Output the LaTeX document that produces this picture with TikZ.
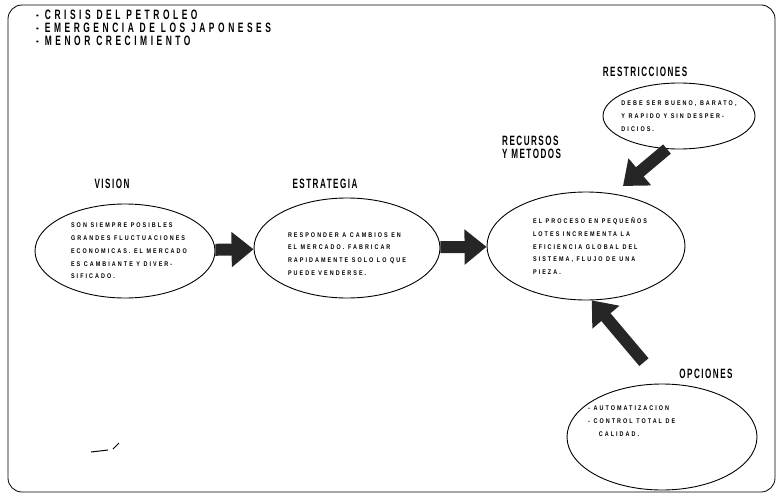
\documentclass[tikz,border=0pt]{standalone}
\usepackage{fontspec}
\setmainfont{Liberation Sans}
\newfontfamily\headfont{Liberation Sans}[FakeStretch=0.6,LetterSpace=11]
\newfontfamily\titlefont{Liberation Sans}[FakeStretch=0.62,LetterSpace=26]
\newfontfamily\bodyfont{Liberation Sans}[FakeStretch=0.8,LetterSpace=30]
\usetikzlibrary{arrows.meta,positioning,shapes.geometric}

\begin{document}
\begin{tikzpicture}[x=1pt, y=-1pt,
  oval/.style={ellipse, draw, line width=0.9pt, inner sep=0pt},
  lbl/.style={font=\headfont\bfseries\fontsize{13.5}{13}\selectfont, align=left, inner sep=0pt},
  txt/.style={font=\bodyfont\bfseries\fontsize{6.8}{12.8}\selectfont, align=left, inner sep=0pt},
  bigarrow/.style={line width=12pt, draw=black!85, -{Triangle[length=22pt, width=34pt]}}]
\useasboundingbox (0,0) rectangle (781,500);
% Frame
\draw[line width=0.8pt, rounded corners=14pt] (8,5) rectangle (775,492);
% Causes
\node[lbl, font=\titlefont\bfseries\fontsize{13.6}{12.9}\selectfont, anchor=west] (causes) at (36,28)
  {- CRISIS DEL PETROLEO\\- EMERGENCIA DE LOS JAPONESES\\- MENOR CRECIMIENTO};
% Headings
\node[lbl] (visionlbl) at (112,184) {VISION};
\node[lbl] (estratlbl) at (325,184) {ESTRATEGIA};
\node[lbl, anchor=west] (recurlbl) at (502,147) {RECURSOS\\Y METODOS};
\node[lbl] (restrlbl) at (645,72) {RESTRICCIONES};
\node[lbl] (opclbl) at (706,374) {OPCIONES};
% Ovals
\node[oval, minimum width=180pt, minimum height=94pt] (vision) at (125,251) {};
\node[oval, minimum width=186pt, minimum height=100pt] (estrat) at (347,248) {};
\node[oval, minimum width=198pt, minimum height=108pt] (recursos) at (586,246) {};
\node[oval, minimum width=152pt, minimum height=66pt] (restr) at (679,116) {};
\node[oval, minimum width=190pt, minimum height=106pt] (opciones) at (662,437) {};
% Texts
\node[txt] (visiontxt) at ([xshift=4pt]vision.center) {SON SIEMPRE POSIBLES\\GRANDES FLUCTUACIONES\\ECONOMICAS. EL MERCADO\\ES CAMBIANTE Y DIVER-\\SIFICADO.};
\node[txt] (estrattxt) at ([yshift=-6pt]estrat.center) {RESPONDER A CAMBIOS EN\\EL MERCADO. FABRICAR\\RAPIDAMENTE SOLO LO QUE\\PUEDE VENDERSE.};
\node[txt] (recursostxt) at ([xshift=4pt]recursos.center) {EL PROCESO EN PEQUE\~NOS\\LOTES INCREMENTA LA\\EFICIENCIA GLOBAL DEL\\SISTEMA, FLUJO DE UNA\\PIEZA.};
\node[txt] (restrtxt) at (restr.center) {DEBE SER BUENO, BARATO,\\Y RAPIDO Y SIN DESPER-\\DICIOS.};
\node[txt, anchor=north west] (opctxt) at (588,406) {- AUTOMATIZACION\\- CONTROL TOTAL DE\\\ \ \ CALIDAD.};
% Arrows
\draw[bigarrow] (vision) -- (estrat);
\draw[bigarrow] (estrat) -- (recursos);
\draw[bigarrow, shorten >=12pt] (restr.250) -- (recursos.62);
\draw[bigarrow, shorten <=28pt] (opciones.north) -- (recursos.-84);
% Stray pen marks
\draw[line width=1pt] (91,452) -- (108,450);
\draw[line width=1pt] (113,449) -- (119,443);
\end{tikzpicture}
\end{document}
